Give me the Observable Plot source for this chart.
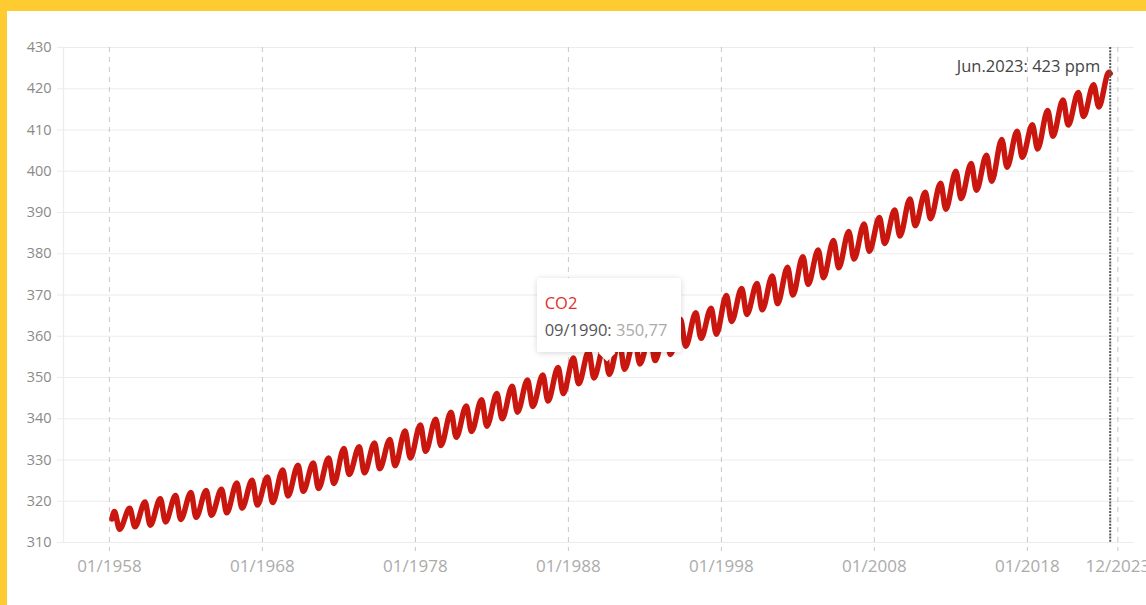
<!DOCTYPE html>
<html><head><meta charset="utf-8">
<script src="https://cdn.jsdelivr.net/npm/d3@7"></script>
<script src="https://cdn.jsdelivr.net/npm/@observablehq/plot@0.6"></script>
<style>
html,body{margin:0;padding:0;background:#fff;overflow:hidden;}
#wrap{position:relative;width:1139px;height:594px;border-top:11px solid #fecb30;border-left:7px solid #fecb30;background:#fff;font-family:"Open Sans",sans-serif;}
#wrap svg{position:absolute;left:0;top:0;}
#tip{position:absolute;box-sizing:border-box;width:144px;height:74px;background:#fff;border-radius:2px;box-shadow:0 1px 6px rgba(0,0,0,0.16);padding:11px 0 0 8px;font-size:16.5px;line-height:27px;white-space:nowrap;}
#tip:after{content:"";position:absolute;left:64px;bottom:-7px;width:12px;height:12px;background:#fff;transform:rotate(45deg);box-shadow:3px 3px 4px rgba(0,0,0,0.08);}
#tip .s{color:#e0302a;position:relative;z-index:1}
#tip .k{color:#555;}
#tip .v{color:#aaa;}
</style></head><body><div id="wrap"></div>
<script>
// Monthly CO2 (ppm): start point, yearly May peaks (1958–2023), yearly September troughs (1958–2022), last point
const seriesName = "CO2";
const startPoint = {year: 1958, month: 3, value: 315.7};
const mayPeaks = [
  317.5,318.3,319.8,320.6,321.4,322.1,322.6,322.9,324.4,325.1,
  325.9,327.6,328.7,329.3,330.5,332.8,333.2,334.1,335.0,337.0,
  338.5,339.9,341.6,343.1,344.6,346.1,347.9,349.4,350.6,352.4,
  354.7,356.3,357.5,359.0,359.6,360.2,362.1,364.1,365.7,366.8,
  369.9,371.6,372.8,374.6,376.7,379.3,380.9,383.2,385.4,387.2,
  388.8,390.6,393.3,394.9,397.1,400.0,401.9,403.9,407.7,409.7,
  411.3,414.7,417.3,419.1,421.0,424.0];
const sepTroughs = [
  313.2,313.8,314.2,315.0,315.6,316.1,316.6,317.2,318.3,319.1,
  319.7,321.3,322.4,323.1,324.3,326.5,326.9,327.9,328.6,330.5,
  332.1,333.5,335.5,336.9,338.2,340.0,341.6,343.0,344.3,346.1,
  348.5,349.9,350.77,352.0,353.3,354.1,355.6,357.6,359.5,360.5,
  363.6,365.3,366.4,367.9,370.0,372.6,374.2,376.6,378.7,380.6,
  382.5,384.3,386.8,388.5,390.8,393.4,395.4,397.6,401.0,403.4,
  405.4,408.5,411.2,413.3,415.6];
const endPoint = {year: 2023, month: 6, value: 423.7};
const endLabel = "Jun.2023: 423 ppm";
const tipPoint = {year: 1990, month: 9, value: 350.77};

const yTicks = [310,320,330,340,350,360,370,380,390,400,410,420,430];
const xTickLabels = ["01/1958","01/1968","01/1978","01/1988","01/1998","01/2008","01/2018","12/2023"];
const xDomainYears = [1955, 2025];

const D = (y, m) => new Date(Date.UTC(y, m - 1, 1));
const data = [{date: D(startPoint.year, startPoint.month), v: startPoint.value}];
mayPeaks.forEach((v, i) => {
  data.push({date: D(1958 + i, 5), v});
  if (i < sepTroughs.length) data.push({date: D(1958 + i, 9), v: sepTroughs[i]});
});
data.push({date: D(endPoint.year, endPoint.month), v: endPoint.value});
data.sort((a, b) => a.date - b.date);

const xTickDates = xTickLabels.map(s => { const [m, y] = s.split("/").map(Number); return D(y, m); });
const endDate = D(endPoint.year, endPoint.month);

const plot = Plot.plot({
  width: 1139, height: 594,
  marginLeft: 56, marginTop: 36, marginRight: 12, marginBottom: 63,
  style: {fontFamily: '"Open Sans", sans-serif', background: "transparent", overflow: "visible"},
  x: {type: "utc", domain: [D(xDomainYears[0], 1), D(xDomainYears[1], 1)], axis: null},
  y: {domain: [310, 430], axis: null},
  marks: [
    Plot.ruleY(yTicks, {stroke: "#ececec", strokeWidth: 1.2, insetLeft: -6}),
    Plot.frame({anchor: "left", stroke: "#ececec", strokeWidth: 1.2}),
    Plot.ruleX(xTickDates, {stroke: "#c8c8c8", strokeDasharray: "5,5", insetBottom: -9}),
    Plot.line(data, {x: "date", y: "v", stroke: "#c9170f", strokeWidth: 5.5, curve: "monotone-x", strokeLinejoin: "round", strokeLinecap: "round"}),
    Plot.ruleX([endDate], {stroke: "#555", strokeWidth: 2, strokeDasharray: "2,1.2"}),
    Plot.text([endLabel], {x: endDate, frameAnchor: "top", dy: 13, dx: -10, textAnchor: "end", fontSize: 16.5, fill: "#444"}),
    Plot.text(yTicks, {y: d => d, text: d => String(d), frameAnchor: "left", dx: -12, textAnchor: "end", fill: "#8a8a8a", fontSize: 14.5}),
    Plot.text(xTickDates, {x: d => d, text: (d, i) => xTickLabels[i], frameAnchor: "bottom", dy: 29, fill: "#ababab", fontSize: 17})
  ]
});
const wrap = document.getElementById("wrap");
wrap.appendChild(plot);

// tooltip anchored to the data point through the plot's scales
const px = plot.scale("x").apply(D(tipPoint.year, tipPoint.month));
const py = plot.scale("y").apply(tipPoint.value);
const tip = document.createElement("div");
tip.id = "tip";
const mm = String(tipPoint.month).padStart(2, "0");
tip.innerHTML = `<div class="s">${seriesName}</div><div style="position:relative;z-index:1"><span class="k">${mm}/${tipPoint.year}:</span> <span class="v">${tipPoint.value.toFixed(2).replace(".", ",")}</span></div>`;
tip.style.left = (px - 72) + "px";
tip.style.top = (py - 96) + "px";
wrap.appendChild(tip);
</script></body></html>
